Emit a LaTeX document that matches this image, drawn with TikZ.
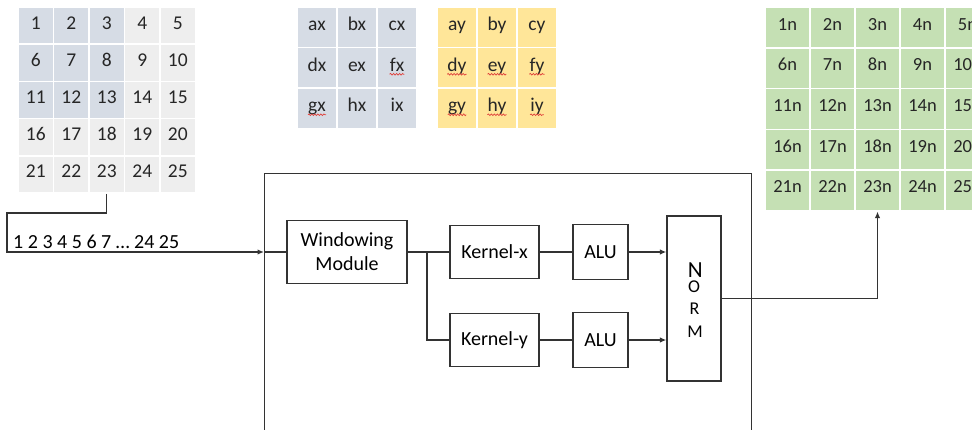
\documentclass[tikz,border=0pt]{standalone}
\usepackage{fontspec}
\setmainfont{Carlito}
\usetikzlibrary{arrows.meta,decorations.pathmorphing,calc}
\definecolor{cellblue}{HTML}{D6DCE5}
\definecolor{cellgray}{HTML}{EEEEEE}
\definecolor{cellyellow}{HTML}{FFE699}
\definecolor{cellgreen}{HTML}{C5E0B4}
\definecolor{inktext}{HTML}{262626}
\definecolor{wire}{HTML}{333333}
\definecolor{spellred}{HTML}{E0403A}

\begin{document}
\begin{tikzpicture}[x=1pt,y=-1pt,
  gridcell/.style={draw=white,line width=1.5pt,inner sep=0pt,
    minimum width=#1},
  celltext/.style={anchor=base,inner sep=0pt,text=inktext,
    font=\fontsize{19.5}{23}\selectfont},
  block/.style={draw=wire,line width=1.3pt,inner sep=0pt,align=center,
    font=\fontsize{20}{24}\selectfont},
  wireline/.style={draw=wire,line width=1.3pt},
  flow/.style={wireline,-{Latex[length=6.5pt,width=5.5pt]}},
  normletter/.style={anchor=base,inner sep=0pt,font=\fontsize{18}{18}\selectfont},
  spell/.style={draw=spellred,line width=0.7pt,
    decorate,decoration={snake,amplitude=0.8pt,segment length=3pt}}
]
\useasboundingbox (0,0) rectangle (972,429);
\clip (0,0) rectangle (972,429);

% 5x5 input image, the first 3x3 window highlighted
\foreach \r in {1,...,5}{
  \foreach \c in {1,...,5}{
    \pgfmathtruncatemacro{\v}{(\r-1)*5+\c}
    \pgfmathsetmacro{\inwin}{(\r<4)&&(\c<4)}
    \ifdim\inwin pt>0.5pt \def\cellcol{cellblue}\else\def\cellcol{cellgray}\fi
    \node[gridcell=35.5pt,minimum height=37.2pt,fill=\cellcol]
      (g-\r-\c) at ({18+35.5*(\c-0.5)},{7+37.2*(\r-0.5)}) {};
    \node[celltext] (gt-\r-\c) at ($(g-\r-\c.center)+(0,3.5)$) {\v};
  }
}

% Kernel-x coefficients
\foreach \t [count=\i from 0] in {ax,bx,cx,dx,ex,fx,gx,hx,ix}{
  \pgfmathtruncatemacro{\r}{int(\i/3)}
  \pgfmathtruncatemacro{\c}{mod(\i,3)}
  \node[gridcell=40pt,minimum height=40.5pt,fill=cellblue]
    (kxc-\i) at ({297+40*(\c+0.5)},{7+40.5*(\r+0.5)}) {};
  \node[celltext] (kxt-\i) at ($(kxc-\i.center)+(0,3.5)$) {\t};
}
% Kernel-y coefficients
\foreach \t [count=\i from 0] in {ay,by,cy,dy,ey,fy,gy,hy,iy}{
  \pgfmathtruncatemacro{\r}{int(\i/3)}
  \pgfmathtruncatemacro{\c}{mod(\i,3)}
  \node[gridcell=40pt,minimum height=40.5pt,fill=cellyellow]
    (kyc-\i) at ({437+40*(\c+0.5)},{7+40.5*(\r+0.5)}) {};
  \node[celltext] (kyt-\i) at ($(kyc-\i.center)+(0,3.5)$) {\t};
}
% spell-check underlines
\foreach \n in {kxt-5,kxt-6,kyt-3,kyt-4,kyt-5,kyt-6,kyt-7,kyt-8}{
  \path[spell] ($(\n.base west)+(0,3)$) -- ($(\n.base east)+(0,3)$);
}

% normalised output image
\foreach \r in {1,...,5}{
  \foreach \c in {1,...,5}{
    \pgfmathtruncatemacro{\v}{(\r-1)*5+\c}
    \node[gridcell=45pt,minimum height=40.7pt,fill=cellgreen]
      (n-\r-\c) at ({765+45*(\c-0.5)},{7.3+40.7*(\r-0.5)}) {};
    \node[celltext,font=\fontsize{18.5}{22}\selectfont]
      (nt-\r-\c) at ($(n-\r-\c.center)+(0,2.5)$) {\v n};
  }
}

% processing unit
\node[draw=wire,line width=1.3pt,minimum width=487pt,minimum height=272pt,
  anchor=north west,inner sep=0pt] (unit) at (264,173) {};
\node[block,minimum width=120pt,minimum height=63pt] (win) at (347,252)
  {Windowing\\Module};
\node[block,minimum width=89pt,minimum height=53pt] (kx) at (494.5,252) {Kernel-x};
\node[block,minimum width=89pt,minimum height=53pt] (ky) at (494.5,340) {Kernel-y};
\node[block,minimum width=55pt,minimum height=55pt] (alux) at (600.5,252) {ALU};
\node[block,minimum width=55pt,minimum height=55pt] (aluy) at (600.5,340) {ALU};
\node[block,minimum width=54pt,minimum height=165pt] (norm) at (694,298.5) {};
\node[anchor=base,inner sep=0pt,font=\fontsize{23}{23}\selectfont]
  (nN) at ($(norm.center)+(1.3,-21.4)$) {N};
\node[normletter] (nO) at ($(norm.center)+(0,-5.6)$) {O};
\node[normletter] (nR) at ($(norm.center)+(0.5,15.5)$) {R};
\node[normletter] (nM) at ($(norm.center)+(1,38.5)$) {M};

% serial pixel stream
\node[anchor=base west,inner sep=0pt,font=\fontsize{20}{24}\selectfont]
  (stream) at (13,248) {1 2 3 4 5 6 7 … 24 25};
\coordinate (tapA) at (7,213);
\coordinate (tapB) at (7,252);
\coordinate (br) at (427,252);

\draw[flow] (g-5-3.south) |- (tapA) -- (tapB) -- (tapB -| unit.west);
\draw[wireline] (win.west -| unit.west) -- (win.west);
\draw[wireline] (win.east) -- (kx.west);
\draw[wireline] (br) |- (ky.west);
\draw[wireline] (kx.east) -- (alux.west);
\draw[wireline] (ky.east) -- (aluy.west);
\draw[flow] (alux.east) -- (alux.east -| norm.west);
\draw[flow] (aluy.east) -- (aluy.east -| norm.west);
\draw[flow] (norm.east) -| (n-5-3.south);
\end{tikzpicture}
\end{document}
